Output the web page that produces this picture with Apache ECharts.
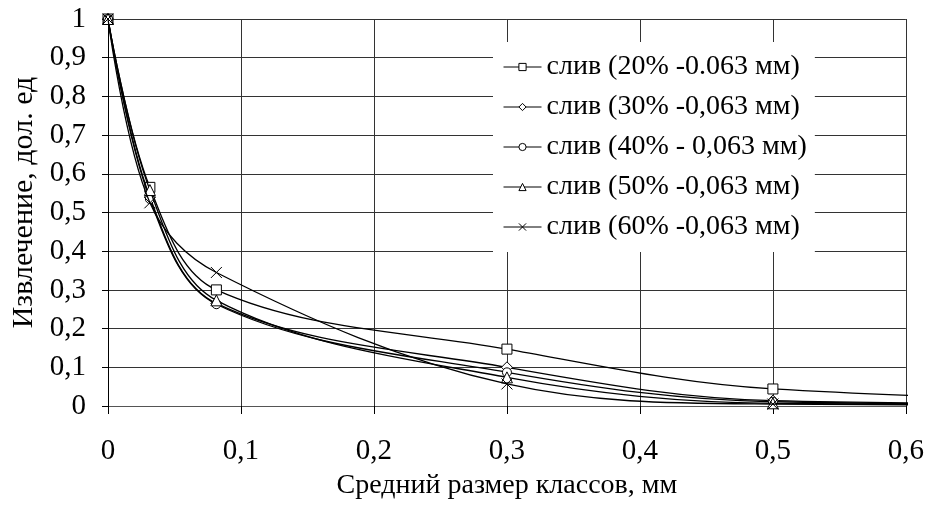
<!DOCTYPE html>
<html>
<head>
<meta charset="utf-8">
<script src="https://cdn.jsdelivr.net/npm/echarts@6/dist/echarts.min.js"></script>
<style>
html,body{margin:0;padding:0;background:#fff;}
#chart{width:927px;height:505px;}
</style>
</head>
<body>
<div id="chart"></div>
<script>
// Data
var xValues = [0, 0.0315, 0.0815, 0.3, 0.5, 1.0];
var s20 = [1, 0.565, 0.300, 0.147, 0.044, 0.0];
var s30 = [1, 0.540, 0.265, 0.100, 0.014, 0.0];
var s40 = [1, 0.535, 0.263, 0.087, 0.011, 0.0];
var s50 = [1, 0.558, 0.273, 0.074, 0.007, 0.0];
var s60 = [1, 0.525, 0.345, 0.057, 0.005, 0.0];
var seriesNames = [
  'слив (20% -0.063 мм)',
  'слив (30% -0,063 мм)',
  'слив (40% - 0,063 мм)',
  'слив (50% -0,063 мм)',
  'слив (60% -0,063 мм)'
];
var xTicks = [0, 0.1, 0.2, 0.3, 0.4, 0.5, 0.6];
var yTicks = [0, 0.1, 0.2, 0.3, 0.4, 0.5, 0.6, 0.7, 0.8, 0.9, 1];

var FONT = '"Liberation Serif", "Times New Roman", serif';
var symbols = ['rect', 'diamond', 'circle', 'triangle', 'path://M0,0L10,10M10,0L0,10'];
var symbolSizes = [10, 11, 9, 11, 11];
var allValues = [s20, s30, s40, s50, s60];

function fmt(v) { return String(+Number(v).toFixed(2)).replace('.', ','); }

var series = allValues.map(function (vals, i) {
  return {
    name: seriesNames[i],
    type: 'line',
    data: xValues.map(function (x, j) { return [x, vals[j]]; }),
    smooth: 0.35,
    clip: true,
    symbol: symbols[i],
    symbolSize: symbolSizes[i],
    showAllSymbol: true,
    lineStyle: { color: '#000', width: 1.3 },
    itemStyle: { color: '#fff', borderColor: '#000', borderWidth: 1 },
    emphasis: { disabled: true },
    z: 2 + i
  };
});

var chart = echarts.init(document.getElementById('chart'), null, { renderer: 'canvas' });
chart.setOption({
  animation: false,
  backgroundColor: '#fff',
  textStyle: { fontFamily: FONT, color: '#000' },
  grid: { left: 108, right: 19, top: 19, bottom: 99, containLabel: false },
  legend: {
    orient: 'vertical',
    left: 493,
    top: 42,
    backgroundColor: '#fff',
    padding: [11, 8, 11, 10],
    itemGap: 12,
    itemWidth: 38,
    itemHeight: 9,
    icon: undefined,
    itemStyle: { color: '#fff', borderColor: '#000', borderWidth: 1 },
    lineStyle: { color: '#000', width: 1 },
    textStyle: { fontFamily: FONT, fontSize: 28, color: '#000', lineHeight: 27 },
    data: seriesNames,
    z: 10
  },
  xAxis: {
    type: 'value',
    min: xTicks[0],
    max: xTicks[xTicks.length - 1],
    interval: 0.1,
    name: 'Средний размер классов, мм',
    nameLocation: 'middle',
    nameGap: 66,
    nameTextStyle: { fontFamily: FONT, fontSize: 28, color: '#000' },
    axisLine: { show: true, lineStyle: { color: '#555', width: 1 } },
    axisTick: { show: true, inside: false, length: 8, lineStyle: { color: '#000' } },
    axisLabel: { fontFamily: FONT, fontSize: 29, color: '#000', margin: 31, formatter: fmt },
    splitLine: { show: true, lineStyle: { color: '#333', width: 1 } }
  },
  yAxis: {
    type: 'value',
    min: yTicks[0],
    max: yTicks[yTicks.length - 1],
    interval: 0.1,
    name: 'Извлечение, дол. ед',
    nameLocation: 'middle',
    nameGap: 65,
    nameTextStyle: { fontFamily: FONT, fontSize: 30, color: '#000', padding: [0, 0, 0, 20] },
    axisLine: { show: true, lineStyle: { color: '#000', width: 1 } },
    axisTick: { show: true, inside: false, length: 6, lineStyle: { color: '#000' } },
    axisLabel: { fontFamily: FONT, fontSize: 29, color: '#000', margin: 22, formatter: fmt },
    splitLine: { show: true, lineStyle: { color: '#333', width: 1 } }
  },
  series: series
});
</script>
</body>
</html>
